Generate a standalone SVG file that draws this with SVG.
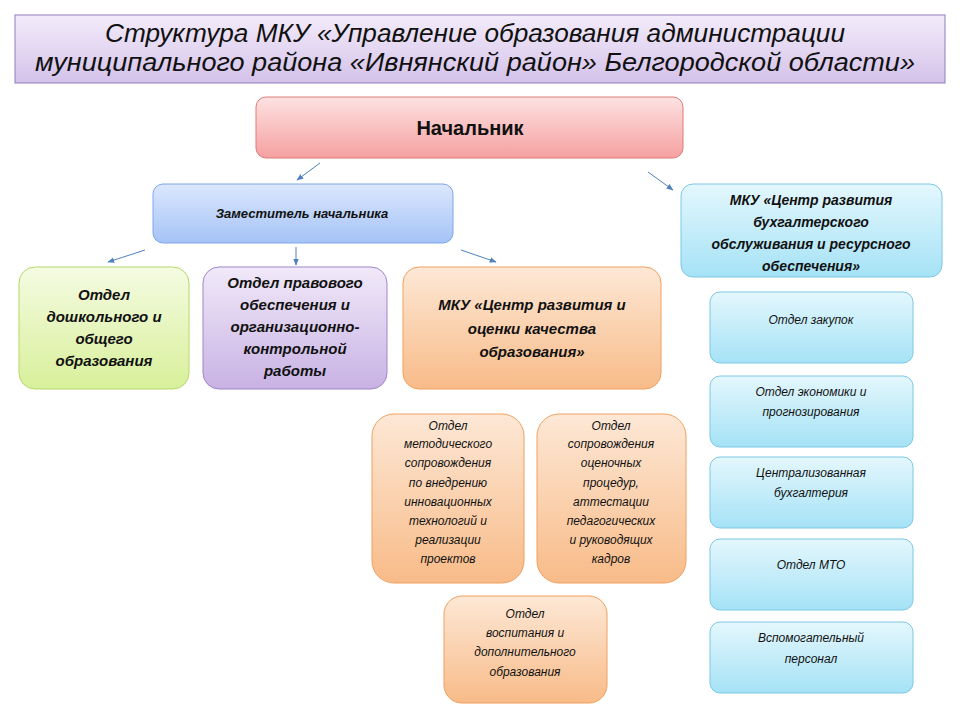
<svg xmlns="http://www.w3.org/2000/svg" width="960" height="720" viewBox="0 0 960 720">
<defs>
<linearGradient id="gT" x1="0" y1="0" x2="0" y2="1"><stop offset="0" stop-color="#f3ecfa"/><stop offset="1" stop-color="#d4c2ea"/></linearGradient>
<linearGradient id="gR" x1="0" y1="0" x2="0" y2="1"><stop offset="0" stop-color="#fde2e2"/><stop offset="1" stop-color="#f6a0a0"/></linearGradient>
<linearGradient id="gB" x1="0" y1="0" x2="0" y2="1"><stop offset="0" stop-color="#dbe7fd"/><stop offset="1" stop-color="#a5c3f7"/></linearGradient>
<linearGradient id="gC" x1="0" y1="0" x2="0" y2="1"><stop offset="0" stop-color="#e4f7fd"/><stop offset="1" stop-color="#a5e2f6"/></linearGradient>
<linearGradient id="gG" x1="0" y1="0" x2="0" y2="1"><stop offset="0" stop-color="#f5fbe2"/><stop offset="1" stop-color="#d8f09a"/></linearGradient>
<linearGradient id="gP" x1="0" y1="0" x2="0" y2="1"><stop offset="0" stop-color="#f1e9f9"/><stop offset="1" stop-color="#c8b2e4"/></linearGradient>
<linearGradient id="gO" x1="0" y1="0" x2="0" y2="1"><stop offset="0" stop-color="#fde8d6"/><stop offset="1" stop-color="#f8bb88"/></linearGradient>
<marker id="ar" viewBox="0 0 10 10" refX="9" refY="5" markerWidth="7" markerHeight="7" orient="auto"><path d="M0,1 L10,5 L0,9 z" fill="#4f81bd"/></marker>
</defs>
<style>
text{font-family:"Liberation Sans",Arial,sans-serif;font-style:italic;text-anchor:middle;fill:#111}
.b{font-weight:bold}
.s{font-size:12px}
.m{font-size:14px}
rect{stroke-width:1}
.ln{stroke:#4f81bd;stroke-width:1;marker-end:url(#ar)}
</style>
<rect width="960" height="720" fill="#fff"/>
<g id="title"><rect x="15" y="15" width="930" height="68" fill="url(#gT)" stroke="#8e7cc3"/>
<text x="475" y="42" font-size="25" fill="#1f1f3f" textLength="740" lengthAdjust="spacingAndGlyphs">Структура МКУ «Управление образования администрации</text>
<text x="475" y="71" font-size="25" fill="#1f1f3f" textLength="880" lengthAdjust="spacingAndGlyphs">муниципального района  «Ивнянский район» Белгородской области»</text></g>
<g id="boss"><rect x="256" y="97" width="427" height="61" rx="10" fill="url(#gR)" stroke="#e07a7a"/><text x="470" y="135" font-size="20" class="b" style="font-style:normal" fill="#5a1a1a">Начальник</text></g>
<g id="deputy"><rect x="153" y="184" width="300" height="59" rx="10" fill="url(#gB)" stroke="#7ea6e8"/><text x="302" y="218" font-size="13" class="b">Заместитель начальника</text></g>
<g id="mkucb"><rect x="681" y="184" width="261" height="93" rx="12" fill="url(#gC)" stroke="#7cc8e6"/>
<text class="b m" x="811" y="205">МКУ «Центр развития</text><text class="b m" x="811" y="227">бухгалтерского</text><text class="b m" x="811" y="249">обслуживания и ресурсного</text><text class="b m" x="811" y="271">обеспечения»</text></g>
<g id="preschool"><rect x="19" y="267" width="170" height="122" rx="16" fill="url(#gG)" stroke="#b5d86a"/>
<text class="b" font-size="15" x="104" y="300">Отдел</text><text class="b" font-size="15" x="104" y="322">дошкольного и</text><text class="b" font-size="15" x="104" y="344">общего</text><text class="b" font-size="15" x="104" y="366">образования</text></g>
<g id="legal"><rect x="203" y="267" width="184" height="122" rx="16" fill="url(#gP)" stroke="#9f86c9"/>
<text class="b" font-size="15" x="295" y="288">Отдел правового</text><text class="b" font-size="15" x="295" y="310">обеспечения и</text><text class="b" font-size="15" x="295" y="332">организационно-</text><text class="b" font-size="15" x="295" y="354">контрольной</text><text class="b" font-size="15" x="295" y="376">работы</text></g>
<g id="mkuq"><rect x="403" y="267" width="258" height="122" rx="16" fill="url(#gO)" stroke="#f0a060"/>
<text class="b" font-size="15" x="532" y="310">МКУ «Центр развития и</text><text class="b" font-size="15" x="532" y="334">оценки качества</text><text class="b" font-size="15" x="532" y="357">образования»</text></g>
<g id="method"><rect x="372" y="414" width="152" height="169" rx="22" fill="url(#gO)" stroke="#f0a060"/>
<text class="s" x="448" y="430">Отдел</text><text class="s" x="448" y="448">методического</text><text class="s" x="448" y="467">сопровождения</text><text class="s" x="448" y="487">по внедрению</text><text class="s" x="448" y="506">инновационных</text><text class="s" x="448" y="525">технологий и</text><text class="s" x="448" y="544">реализации</text><text class="s" x="448" y="563">проектов</text></g>
<g id="assess"><rect x="537" y="414" width="149" height="169" rx="22" fill="url(#gO)" stroke="#f0a060"/>
<text class="s" x="611" y="430">Отдел</text><text class="s" x="611" y="448">сопровождения</text><text class="s" x="611" y="467">оценочных</text><text class="s" x="611" y="487">процедур,</text><text class="s" x="611" y="506">аттестации</text><text class="s" x="611" y="525">педагогических</text><text class="s" x="611" y="544">и руководящих</text><text class="s" x="611" y="563">кадров</text></g>
<g id="upbring"><rect x="444" y="596" width="163" height="107" rx="18" fill="url(#gO)" stroke="#f0a060"/>
<text class="s" x="525" y="618">Отдел</text><text class="s" x="525" y="637">воспитания и</text><text class="s" x="525" y="656">дополнительного</text><text class="s" x="525" y="676">образования</text></g>
<g id="purch"><rect x="710" y="292" width="203" height="71" rx="10" fill="url(#gC)" stroke="#7cc8e6"/><text class="s" x="811" y="324">Отдел закупок</text></g>
<g id="econ"><rect x="710" y="376" width="203" height="71" rx="10" fill="url(#gC)" stroke="#7cc8e6"/><text class="s" x="811" y="396">Отдел экономики и</text><text class="s" x="811" y="416">прогнозирования</text></g>
<g id="acc"><rect x="710" y="457" width="203" height="71" rx="10" fill="url(#gC)" stroke="#7cc8e6"/><text class="s" x="811" y="477">Централизованная</text><text class="s" x="811" y="497">бухгалтерия</text></g>
<g id="mto"><rect x="710" y="539" width="203" height="71" rx="10" fill="url(#gC)" stroke="#7cc8e6"/><text class="s" x="811" y="569">Отдел МТО</text></g>
<g id="aux"><rect x="710" y="622" width="203" height="71" rx="10" fill="url(#gC)" stroke="#7cc8e6"/><text class="s" x="811" y="642">Вспомогательный</text><text class="s" x="811" y="663">персонал</text></g>
<g id="connectors" fill="none">
<line class="ln" x1="320" y1="163" x2="297" y2="180"/>
<line class="ln" x1="648" y1="172" x2="673" y2="190"/>
<line class="ln" x1="145" y1="250" x2="108" y2="262"/>
<line class="ln" x1="296" y1="247" x2="296" y2="265"/>
<line class="ln" x1="461" y1="250" x2="496" y2="262"/>
</g>
</svg>
